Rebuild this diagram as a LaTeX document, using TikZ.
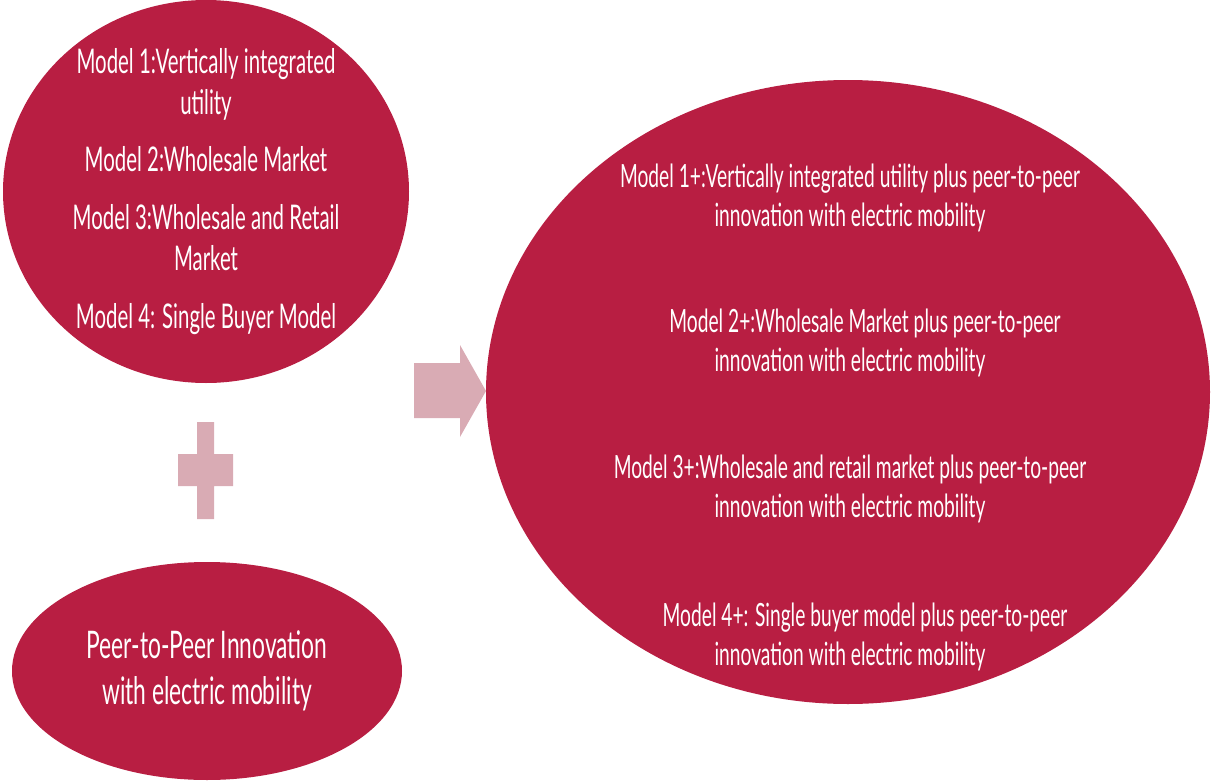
\documentclass[tikz,border=0pt]{standalone}
\usepackage{fontspec}
\setmainfont{Lato}[FakeStretch=0.6]
\usetikzlibrary{shapes.geometric, positioning}
\definecolor{crimson}{HTML}{B81E42}
\definecolor{blush}{HTML}{D9ABB4}

\begin{document}
\begin{tikzpicture}[x=0.5pt, y=-0.5pt,
  blob/.style={ellipse, fill=crimson, inner sep=0pt},
  txt/.style={text=white, align=center, inner sep=0pt},
  signfill/.style={fill=blush}
]
\useasboundingbox (0,0) rectangle (1212,782);

% the three ellipses
\node[blob, minimum width=203pt, minimum height=191.5pt] (models) at (206,191.5) {};
\node[blob, minimum width=195pt, minimum height=109pt]   (peer)   at (207,671) {};
\node[blob, minimum width=362pt, minimum height=312pt]   (plus)   at (848,392) {};

% texts
\node[txt, font=\fontsize{17}{20.5}\selectfont] (modelstxt) at (models.center)
  {Model 1:Vertically integrated\\utility\\[8pt]
   Model 2:Wholesale Market\\[8.5pt]
   Model 3:Wholesale and Retail\\Market\\[8.5pt]
   Model 4: Single Buyer Model};
\node[txt, font=\fontsize{19}{23}\selectfont] (peertxt) at (peer.center)
  {Peer-to-Peer Innovation\\with electric mobility};

\begin{scope}[every node/.style={txt, font=\fontsize{16}{19.5}\selectfont}]
\node (m1) at (850,198) {Model 1+:Vertically integrated utility plus peer-to-peer\\innovation with electric mobility};
\node (m2) at (850,343) {\hspace*{15pt}Model 2+:Wholesale Market plus peer-to-peer\\innovation with electric mobility};
\node (m3) at (850,489) {Model 3+:Wholesale and retail market plus peer-to-peer\\innovation with electric mobility};
\node (m4) at (850,637) {\hspace*{15pt}Model 4+: Single buyer model plus peer-to-peer\\innovation with electric mobility};
\end{scope}

% plus sign and arrow
\fill[signfill] (197,422) -- (214,422) -- (214,454) -- (233,454) -- (233,486) -- (214,486)
  -- (214,519) -- (197,519) -- (197,486) -- (178,486) -- (178,454) -- (197,454) -- cycle;
\fill[signfill] (414,363) -- (460,363) -- (460,345) -- (486,391) -- (460,437) -- (460,418)
  -- (414,418) -- cycle;
\end{tikzpicture}
\end{document}
